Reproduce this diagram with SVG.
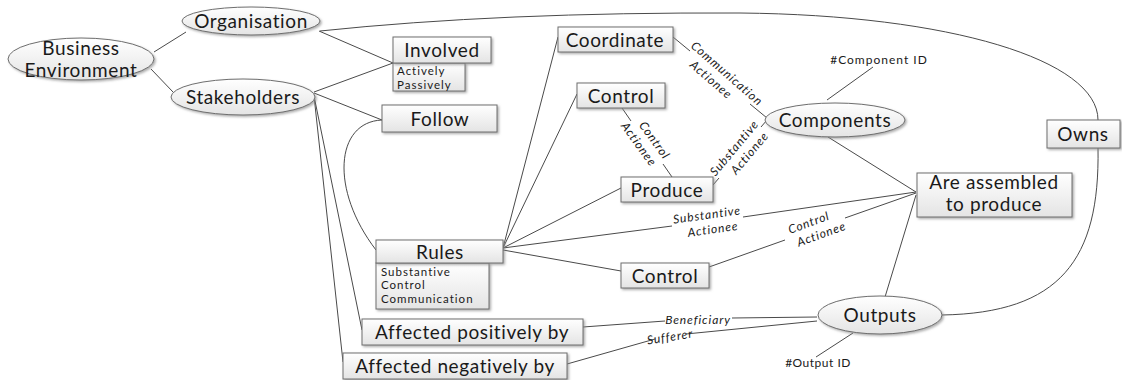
<svg xmlns="http://www.w3.org/2000/svg" width="1122" height="380" viewBox="0 0 1122 380">
<defs>
<linearGradient id="g" x1="0" y1="0" x2="0" y2="1">
<stop offset="0" stop-color="#ffffff"/>
<stop offset="1" stop-color="#e4e4e4"/>
</linearGradient>
<filter id="sh" x="-10%" y="-20%" width="125%" height="160%">
<feDropShadow dx="1.5" dy="1.5" stdDeviation="1" flood-color="#8a8a8a" flood-opacity="0.7"/>
</filter>
<style>
.n{fill:url(#g);stroke:#6e6e6e;stroke-width:1;filter:url(#sh)}
.c{fill:none;stroke:#4a4a4a;stroke-width:1}
.t{font-family:Lato,"Open Sans",sans-serif;font-size:19px;letter-spacing:0.6px;fill:#1a1a1a;text-anchor:middle}
.s{font-family:Lato,"Open Sans",sans-serif;font-size:11.5px;letter-spacing:1px;fill:#1a1a1a}
.l{font-family:Lato,"Open Sans",sans-serif;font-size:12px;letter-spacing:0.9px;font-style:italic;fill:#1a1a1a;text-anchor:middle}
</style>
</defs>
<rect width="1122" height="380" fill="#ffffff"/>
<g id="connectors">
<path class="c" d="M154,52 L186,32"/>
<path class="c" d="M151,69 L173,92"/>
<path class="c" d="M319,31 L393,63"/>
<path class="c" d="M314,92 L393,63"/>
<path class="c" d="M314,93 L382,120"/>
<path class="c" d="M314,96 L362,330"/>
<path class="c" d="M314,96 L343,362"/>
<path class="c" d="M382,120 C335,122 330,190 376,250"/>
<path class="c" d="M503,248 L558,37"/>
<path class="c" d="M503,248 L577,94"/>
<path class="c" d="M503,248 L621,188"/>
<path class="c" d="M503,248 L672,226 M743,217 L916,192"/>
<path class="c" d="M503,250 L621,271"/>
<path class="c" d="M709,267 L785,240 M845,218 L916,193"/>
<path class="c" d="M673,37 L690,51 M750,104 L767,118"/>
<path class="c" d="M622,108 L631,121 M663,164 L672,177"/>
<path class="c" d="M713,185 L719,178 M761,127 L767,120"/>
<path class="c" d="M827,100 L873,67"/>
<path class="c" d="M828,137 L916,192"/>
<path class="c" d="M916,195 L885,297"/>
<path class="c" d="M853,333 L816,357"/>
<path class="c" d="M583,327 L665,321 M732,318 L817,317"/>
<path class="c" d="M567,364 L655,339 M686,334 L817,321"/>
<path class="c" d="M320,31 Q500,12 740,13 C950,15 1098,60 1098,120"/>
<path class="c" d="M942,315 C1060,313 1100,260 1098,148"/>
<g transform="translate(720,77) rotate(41)"><text class="l" x="3" y="-3">Communication</text><text class="l" x="-5" y="12">Actionee</text></g>
<g transform="translate(647,142) rotate(54)"><text class="l" x="3" y="-3">Control</text><text class="l" x="-3" y="12">Actionee</text></g>
<g transform="translate(741,151) rotate(-50)"><text class="l" x="-2" y="-3">Substantive</text><text class="l" x="4" y="12">Actionee</text></g>
<g transform="translate(708,222) rotate(-8)"><text class="l" x="0" y="-3">Substantive</text><text class="l" x="4" y="12">Actionee</text></g>
<g transform="translate(815,228) rotate(-20)"><text class="l" x="-4" y="-3">Control</text><text class="l" x="4" y="12">Actionee</text></g>
<text class="l" x="698" y="324">Beneficiary</text>
<g transform="translate(670,337) rotate(-9)"><text class="l" x="0" y="4">Sufferer</text></g>
</g>
<g id="business-environment"><ellipse class="n" cx="81" cy="59" rx="73" ry="21"/><text class="t" x="81" y="54.5">Business</text><text class="t" x="81" y="77.4">Environment</text></g>
<g id="organisation"><ellipse class="n" cx="251" cy="21" rx="69" ry="14"/><text class="t" x="251" y="27.5">Organisation</text></g>
<g id="stakeholders"><ellipse class="n" cx="243" cy="97" rx="72" ry="18"/><text class="t" x="243" y="103.5">Stakeholders</text></g>
<g id="involved"><rect class="n" x="393" y="63" width="72" height="28"/><rect class="n" x="393" y="37" width="98" height="26"/><text class="t" x="442" y="56.5">Involved</text><text class="s" x="397" y="74.8">Actively</text><text class="s" x="397" y="88.7">Passively</text></g>
<g id="follow"><rect class="n" x="382" y="105" width="115" height="27"/><text class="t" x="440" y="125.5">Follow</text></g>
<g id="rules"><rect class="n" x="376" y="263" width="113" height="46"/><rect class="n" x="376" y="240" width="127" height="23"/><text class="t" x="440" y="258.5">Rules</text><text class="s" x="381" y="275.5">Substantive</text><text class="s" x="381" y="289.4">Control</text><text class="s" x="381" y="303.3">Communication</text></g>
<g id="coordinate"><rect class="n" x="558" y="27" width="115" height="25"/><text class="t" x="615" y="46.5">Coordinate</text></g>
<g id="control-top"><rect class="n" x="577" y="83" width="88" height="25"/><text class="t" x="621" y="102.5">Control</text></g>
<g id="produce"><rect class="n" x="621" y="177" width="92" height="25"/><text class="t" x="667" y="196.5">Produce</text></g>
<g id="control-bottom"><rect class="n" x="621" y="263" width="88" height="25"/><text class="t" x="665" y="282.5">Control</text></g>
<g id="components"><ellipse class="n" cx="835" cy="120" rx="70" ry="17"/><text class="t" x="835" y="126.5">Components</text></g>
<g id="component-id"><text class="s" x="879" y="64" text-anchor="middle" style="font-size:12px;letter-spacing:1px">#Component ID</text></g>
<g id="assembled"><rect class="n" x="917" y="173" width="155" height="44"/><text class="t" x="994" y="188.5">Are assembled</text><text class="t" x="994" y="211.4">to produce</text></g>
<g id="owns"><rect class="n" x="1047" y="120" width="73" height="28"/><text class="t" x="1083" y="140.5">Owns</text></g>
<g id="outputs"><ellipse class="n" cx="880" cy="315" rx="62" ry="19"/><text class="t" x="880" y="321.5">Outputs</text></g>
<g id="output-id"><text class="s" x="818" y="367" text-anchor="middle" style="font-size:12px;letter-spacing:0.5px">#Output ID</text></g>
<g id="affected-positively"><rect class="n" x="362" y="319" width="221" height="26"/><text class="t" x="472" y="338.5">Affected positively by</text></g>
<g id="affected-negatively"><rect class="n" x="343" y="353" width="224" height="26"/><text class="t" x="455" y="372.5">Affected negatively by</text></g>
</svg>
